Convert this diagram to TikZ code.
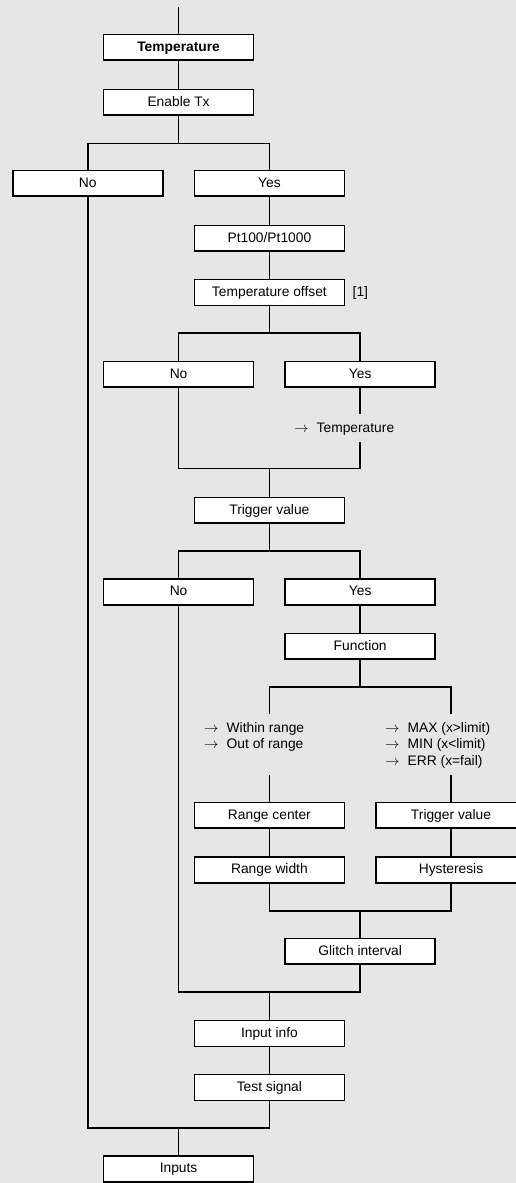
\documentclass[tikz,border=0pt]{standalone}
\usepackage{fontspec}
\setmainfont{Liberation Sans}
\definecolor{bgc}{RGB}{230,230,230}
\tikzset{
  box/.style={draw, fill=white, line width=1.6pt, minimum width=150pt, minimum height=25.8pt,
    inner sep=0pt, text height=9.8pt, text depth=2pt, font=\fontsize{13.8}{16}\selectfont},
  lbl/.style={inner sep=0pt, anchor=base west, font=\fontsize{13.8}{16}\selectfont},
  conn/.style={line width=1.6pt}
}
\newcommand{\arr}{\makebox[22.5pt][l]{$\rightarrow$}}
\begin{document}
\begin{tikzpicture}[x=1pt,y=-1pt]
\fill[bgc] (0,0) rectangle (516,1183);
\useasboundingbox (0,0) rectangle (516,1183);
\clip (0,0) rectangle (516,1183);
\def\cA{87.8}\def\cB{178.6}\def\cC{269.4}\def\cD{360.2}\def\cE{451.0}
% boxes
\node[box, font=\fontsize{13.8}{16}\selectfont\bfseries] (temp) at (\cB,47.3) {Temperature};
\node[box] (entx) at (\cB,102.3) {Enable Tx};
\node[box] (no1) at (\cA,183.3) {No};
\node[box] (yes1) at (\cC,183.3) {Yes};
\node[box] (pt) at (\cC,238.3) {Pt100/Pt1000};
\node[box] (toff) at (\cC,292.5) {Temperature offset};
\node[lbl] (ref) at (352.5,296.7) {[1]};
\node[box] (no2) at (\cB,374.3) {No};
\node[box] (yes2) at (\cD,374.3) {Yes};
\node[lbl] (ltemp) at (294,432.3) {\arr Temperature};
\node[box] (trig) at (\cC,510.2) {Trigger value};
\node[box] (no3) at (\cB,591.8) {No};
\node[box] (yes3) at (\cD,591.8) {Yes};
\node[box] (func) at (\cD,646.3) {Function};
\node[lbl] (lwr) at (204,732.3) {\arr Within range};
\node[lbl] (lor) at (204,748.3) {\arr Out of range};
\node[lbl] (lmax) at (385,732.3) {\arr MAX (x>limit)};
\node[lbl] (lmin) at (385,748.3) {\arr MIN (x<limit)};
\node[lbl] (lerr) at (385,765.3) {\arr ERR (x=fail)};
\node[box] (rc) at (\cC,815.3) {Range center};
\node[box] (tv2) at (\cE,815.3) {Trigger value};
\node[box] (rw) at (\cC,869.8) {Range width};
\node[box] (hy) at (\cE,869.8) {Hysteresis};
\node[box] (gl) at (\cD,951.3) {Glitch interval};
\node[box] (ii) at (\cC,1033.5) {Input info};
\node[box] (ts) at (\cC,1087.5) {Test signal};
\node[box] (inp) at (\cB,1169) {Inputs};
% coordinates
\coordinate (top) at (\cB,7);
\coordinate (br1) at (\cB,143.3);
\coordinate (br2) at (\cC,332.7);
\coordinate (g2a) at (\cD,414.3);
\coordinate (g2b) at (\cD,442.3);
\coordinate (mg2) at (\cC,468.3);
\coordinate (br3) at (\cC,551);
\coordinate (br4) at (\cD,687);
\coordinate (g4l) at (\cC,714.3);
\coordinate (g4r) at (\cE,714.3);
\coordinate (g4lb) at (\cC,775.3);
\coordinate (g4rb) at (\cE,775.3);
\coordinate (mg4) at (\cD,910.7);
\coordinate (mg3) at (\cC,991.7);
\coordinate (mg1) at (\cB,1127.7);
% connectors
\draw[conn] (top) -- (temp);
\draw[conn] (temp) -- (entx);
\draw[conn] (entx) -- (br1);
\draw[conn] (no1) |- (br1) -| (yes1);
\draw[conn] (yes1) -- (pt);
\draw[conn] (pt) -- (toff);
\draw[conn] (toff) -- (br2);
\draw[conn] (no2) |- (br2) -| (yes2);
\draw[conn] (yes2) -- (g2a);
\draw[conn] (no2) |- (mg2) -| (g2b);
\draw[conn] (mg2) -- (trig);
\draw[conn] (trig) -- (br3);
\draw[conn] (no3) |- (br3) -| (yes3);
\draw[conn] (yes3) -- (func);
\draw[conn] (func) -- (br4);
\draw[conn] (g4l) |- (br4) -| (g4r);
\draw[conn] (g4lb) -- (rc);
\draw[conn] (g4rb) -- (tv2);
\draw[conn] (rc) -- (rw);
\draw[conn] (tv2) -- (hy);
\draw[conn] (rw) |- (mg4) -| (hy);
\draw[conn] (mg4) -- (gl);
\draw[conn] (no3) |- (mg3) -| (gl);
\draw[conn] (mg3) -- (ii);
\draw[conn] (ii) -- (ts);
\draw[conn] (no1) |- (mg1) -| (ts);
\draw[conn] (mg1) -- (inp);
\end{tikzpicture}
\end{document}
